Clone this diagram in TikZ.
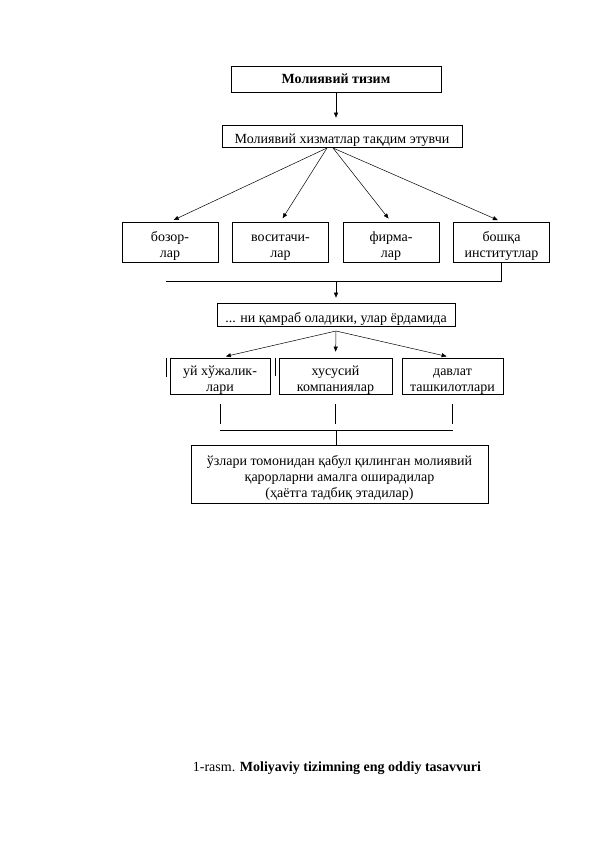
\documentclass[tikz,border=0pt]{standalone}
\usepackage{fontspec}
\setmainfont{Liberation Serif}
\usetikzlibrary{arrows.meta,calc}
\begin{document}
\begin{tikzpicture}[x=1pt,y=-1pt,
        blok/.style={
            draw,
            line width=0.6pt,
            align=center,
            inner sep=1pt,
            font=\fontsize{14}{16}\selectfont
        },
        strelka/.style={-{Triangle[length=5pt,width=4pt]}, line width=0.5pt},
        liniya/.style={line width=0.5pt}
    ]
    \useasboundingbox (0,0) rectangle (596,842);

    % Yuqori bloklar
    \node[blok, minimum width=210pt, text height=17pt, text depth=7pt,
          font=\fontsize{14}{16}\selectfont\bfseries] (tizim) at (336,79) {Молиявий тизим};
    \node[blok, minimum width=240pt, text height=18pt, text depth=2pt] (xizmat) at (342,136) {Молиявий хизматлар тақдим этувчи};

    % To'rtta blok
    \foreach \matn [count=\i] in {бозор-\\лар, воситачи-\\лар, фирма-\\лар, бошқа\\институтлар} {
        \node[blok, minimum width=96pt, text height=34pt, text depth=4pt] (b\i) at ({170+(\i-1)*110.5},242) {\matn};
    }

    \node[blok, minimum width=238pt, text height=18pt, text depth=3pt] (qamrab) at (336,314.5) {... ни қамраб оладики, улар ёрдамида};

    % Uchta blok
    \node[blok, minimum width=100pt, text height=32pt, text depth=2pt] (uy) at (220,376) {уй хўжалик-\\лари};
    \node[blok, minimum width=113pt, text height=32pt, text depth=2pt] (kompaniya) at (335.5,376) {хусусий\\компаниялар};
    \node[blok, minimum width=101pt, text height=32pt, text depth=2pt] (davlat) at (452.5,376) {давлат\\ташкилотлари};

    \node[blok, minimum width=297pt, text height=51pt, text depth=5pt] (natija) at (339.5,474) {ўзлари томонидан қабул қилинган молиявий\\қарорларни амалга оширадилар\\(ҳаётга тадбиқ этадилар)};

    % Tayanch nuqtalar
    \coordinate (fanL) at (327,148);
    \coordinate (fanR) at (333,148);
    \coordinate (chap1) at (166,281);
    \coordinate (yig1) at (336,281);
    \coordinate (uch) at (336,331);
    \coordinate (yig2) at (336,430);

    % Strelkalar
    \draw[strelka, shorten >=7pt] (tizim.south) -- (tizim.south |- xizmat.north);
    \draw[strelka, shorten >=4pt] (fanL) -- (b1.north);
    \draw[strelka, shorten >=4pt] (fanL) -- (b2.north);
    \draw[strelka, shorten >=4pt] (fanR) -- (b3.north);
    \draw[strelka, shorten >=4pt] (fanR) -- (b4.north);

    \draw[liniya] (b4.south) |- (chap1);
    \draw[strelka, shorten >=5pt] (yig1) -- (qamrab.north);

    \draw[strelka, shorten >=6pt] (uch) -- (uy.north);
    \draw[strelka, shorten >=6pt] (uch) -- (kompaniya.north);
    \draw[strelka, shorten >=6pt] (uch) -- (davlat.north);

    % Pastki chiziqlar
    \foreach \b in {uy, kompaniya, davlat} {
        \draw[liniya] ($(\b.south)+(0,10)$) -- ++(0,20);
    }
    \draw[liniya] ($(uy.south)+(0,36)$) -- ($(davlat.south)+(0,36)$);
    \draw[liniya] (yig2) -- (yig2 |- natija.north);

    % Mayda chiziqlar
    \draw[liniya] ($(uy.north west)+(-3,0)$) -- ++(0,19);
    \draw[liniya] ($(kompaniya.north west)+(-3,0)$) -- ++(0,18);

    % Sarlavha
    \node[font=\fontsize{14}{16}\selectfont] (sarlavha) at (337,768) {1-rasm. \textbf{Moliyaviy tizimning eng oddiy tasavvuri}};
\end{tikzpicture}
\end{document}
